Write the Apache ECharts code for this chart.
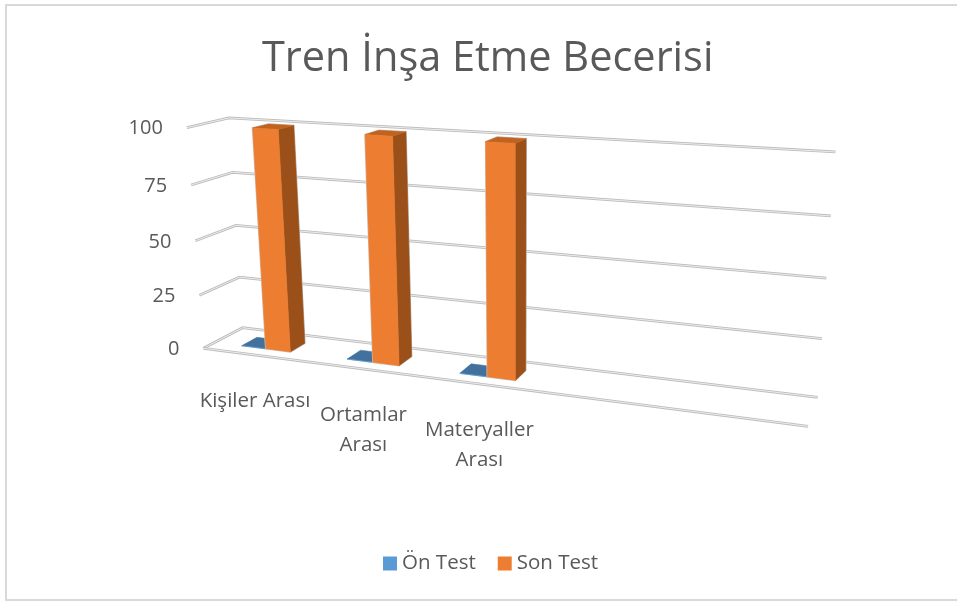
<!DOCTYPE html>
<html>
<head>
<meta charset="utf-8">
<script src="https://cdn.jsdelivr.net/npm/echarts@6/dist/echarts.min.js"></script>
<style>
html, body { margin: 0; padding: 0; background: #fff; }
#chart { width: 957px; height: 601px; }
</style>
</head>
<body>
<div id="chart"></div>
<script>
let categories = ['Kişiler Arası', 'Ortamlar\nArası', 'Materyaller\nArası', '', ''];
let onTest = [0, 0, 0];
let sonTest = [100, 100, 100];
let yTicks = [0, 25, 50, 75, 100];

const FONT = '"Open Sans", sans-serif';
const TEXT = '#595959';

// camera fit: [u, v, z] on the plot box -> [x, y] on screen, z = 0 front, 1 back wall
const anchors = [
  [0, 1, 0, 187, 128], [0, .75, 0, 191, 185], [0, .5, 0, 195, 241], [0, .25, 0, 199, 296], [0, 0, 0, 203, 348],
  [0, 1, 1, 228, 118], [0, .75, 1, 232, 172], [0, .5, 1, 236, 226], [0, .25, 1, 240, 277], [0, 0, 1, 243, 328],
  [1, 1, 1, 835, 152], [1, .75, 1, 831, 215], [1, .5, 1, 826, 278], [1, .25, 1, 822, 339], [1, 0, 1, 818, 398],
  [1, 0, 0, 808, 427],
  [.1, 0, .28, 266, 348], [.3, 0, .28, 373, 362], [.5, 0, .28, 487, 376],
  [.1, 1, .28, 253, 128], [.3, 1, .28, 366, 134], [.5, 1, .28, 486, 142]
];
const BAR_FRONT = 0.28, BAR_BACK = 0.68, BAR_BAND = 0.235;

function solveCamera() {
  let rows = [], rhs = [];
  anchors.forEach(function (a) {
    let u = a[0], v = a[1], z = a[2], x = a[3] / 1000, y = a[4] / 1000;
    rows.push([u, v, z, 1, 0, 0, 0, 0, -x * u, -x * v, -x * z]); rhs.push(x);
    rows.push([0, 0, 0, 0, u, v, z, 1, -y * u, -y * v, -y * z]); rhs.push(y);
  });
  let n = 11, m = [];
  for (let i = 0; i < n; i++) {
    m.push([]);
    for (let j = 0; j <= n; j++) {
      let s = 0;
      rows.forEach(function (r, k) { s += r[i] * (j < n ? r[j] : rhs[k]); });
      m[i].push(s);
    }
  }
  for (let i = 0; i < n; i++) {
    let p = i;
    for (let k = i + 1; k < n; k++) if (Math.abs(m[k][i]) > Math.abs(m[p][i])) p = k;
    let t = m[i]; m[i] = m[p]; m[p] = t;
    for (let k = 0; k < n; k++) {
      if (k === i) continue;
      let f = m[k][i] / m[i][i];
      for (let j = i; j <= n; j++) m[k][j] -= f * m[i][j];
    }
  }
  return m.map(function (r, i) { return r[n] / r[i]; });
}
const cam = solveCamera();

function project(u, v, z) {
  let w = cam[8] * u + cam[9] * v + cam[10] * z + 1;
  return [
    1000 * (cam[0] * u + cam[1] * v + cam[2] * z + cam[3]) / w,
    1000 * (cam[4] * u + cam[5] * v + cam[6] * z + cam[7]) / w
  ];
}

// axis pixel -> 0..1 on the hidden plot box
function toBox(params, pt) {
  let cs = params.coordSys;
  return [(pt[0] - cs.x) / cs.width, (cs.y + cs.height - pt[1]) / cs.height];
}

function tube(points) {
  return [
    { type: 'polyline', shape: { points: points }, style: { fill: null, stroke: '#bcbcbc', lineWidth: 2.8 } },
    { type: 'polyline', shape: { points: points }, style: { fill: null, stroke: '#ececec', lineWidth: 1 } }
  ];
}

function renderGrid(params, api) {
  let val = api.value(0);
  let v = toBox(params, api.coord([0, val]))[1];
  let kids = tube([project(0, v, 0), project(0, v, 1), project(1, v, 1)]);
  if (val === 0) kids = kids.concat(tube([project(0, 0, 0), project(1, 0, 0)]));
  let p = project(0, v, 0);
  kids.push({
    type: 'text',
    style: {
      x: p[0] - 24, y: p[1] + 1, text: String(val), align: 'right', verticalAlign: 'middle',
      fill: TEXT, font: '20px ' + FONT
    }
  });
  return { type: 'group', children: kids };
}

function renderCategory(params, api) {
  let idx = api.value(0);
  let u = toBox(params, api.coord([idx, 0]))[0];
  let p = project(u, 0, 0);
  return {
    type: 'text',
    style: {
      x: p[0], y: p[1] + 31, text: categories[idx], align: 'center', verticalAlign: 'top',
      fill: TEXT, font: '20.5px ' + FONT, lineHeight: 30
    }
  };
}

function barRenderer(side, colors) {
  return function (params, api) {
    let idx = api.value(0);
    let base = toBox(params, api.coord([idx, 0]));
    let top = toBox(params, api.coord([idx, api.value(1)]));
    let w = api.size([1, 0])[0] * BAR_BAND / params.coordSys.width;
    let u0 = side < 0 ? base[0] - w : base[0];
    let u1 = u0 + w;
    let poly = function (pts, fill) {
      return { type: 'polygon', shape: { points: pts }, style: { fill: fill, stroke: fill, lineWidth: 0.5 } };
    };
    let v0 = base[1], v1 = top[1], zf = BAR_FRONT, zb = BAR_BACK;
    let kids = [
      poly([project(u1, v0, zf), project(u1, v0, zb), project(u1, v1, zb), project(u1, v1, zf)], colors.side),
      poly([project(u0, v1, zf), project(u1, v1, zf), project(u1, v1, zb), project(u0, v1, zb)], colors.top),
      poly([project(u0, v0, zf), project(u1, v0, zf), project(u1, v1, zf), project(u0, v1, zf)], colors.front)
    ];
    if (colors.edge) {
      // faint rim round the whole column
      kids.unshift({
        type: 'polygon',
        shape: { points: [project(u0, v0, zf), project(u1, v0, zf), project(u1, v0, zb), project(u1, v1, zb), project(u0, v1, zb), project(u0, v1, zf)] },
        style: { fill: colors.edge, stroke: colors.edge, lineWidth: 1.6 }
      });
    }
    return { type: 'group', children: kids };
  };
}

let myChart = echarts.init(document.getElementById('chart'), null, { renderer: 'canvas' });

let option = {
  animation: false,
  backgroundColor: '#fff',
  title: {
    text: 'Tren İnşa Etme Becerisi',
    left: 257,
    top: 33,
    textStyle: { color: TEXT, fontSize: 41.5, fontWeight: 'normal', fontFamily: FONT }
  },
  legend: {
    data: ['Ön Test', 'Son Test'],
    left: 378,
    top: 548,
    icon: 'rect',
    itemWidth: 14,
    itemHeight: 14,
    itemGap: 22,
    textStyle: { color: TEXT, fontSize: 20.5, fontFamily: FONT }
  },
  grid: { left: 100, right: 100, top: 100, bottom: 100 },
  xAxis: { type: 'category', data: categories, show: false },
  yAxis: { type: 'value', min: 0, max: 100, interval: 25, show: false },
  graphic: [{
    type: 'rect',
    shape: { x: 6, y: 5, width: 960, height: 595 },
    style: { fill: null, stroke: '#d9d9d9', lineWidth: 2 },
    silent: true
  }],
  series: [
    {
      type: 'custom', name: 'grid', silent: true, clip: false,
      data: yTicks.map(function (t) { return [t]; }),
      encode: { y: 0 },
      renderItem: renderGrid
    },
    {
      type: 'custom', name: 'Ön Test', clip: false,
      itemStyle: { color: '#5b9bd5' },
      data: onTest.map(function (v, i) { return [i, v]; }),
      encode: { x: 0, y: 1 },
      renderItem: barRenderer(-1, { front: '#5b9bd5', side: '#335a7e', top: '#41719c' })
    },
    {
      type: 'custom', name: 'Son Test', clip: false,
      itemStyle: { color: '#ed7d31' },
      data: sonTest.map(function (v, i) { return [i, v]; }),
      encode: { x: 0, y: 1 },
      renderItem: barRenderer(1, { front: '#ed7d31', side: '#9a5018', top: '#c0631f', edge: '#cfcfcf' })
    },
    {
      type: 'custom', name: 'labels', silent: true, clip: false,
      data: categories.map(function (c, i) { return [i]; }),
      encode: { x: 0 },
      renderItem: renderCategory
    }
  ]
};
myChart.setOption(option);
</script>
</body>
</html>
